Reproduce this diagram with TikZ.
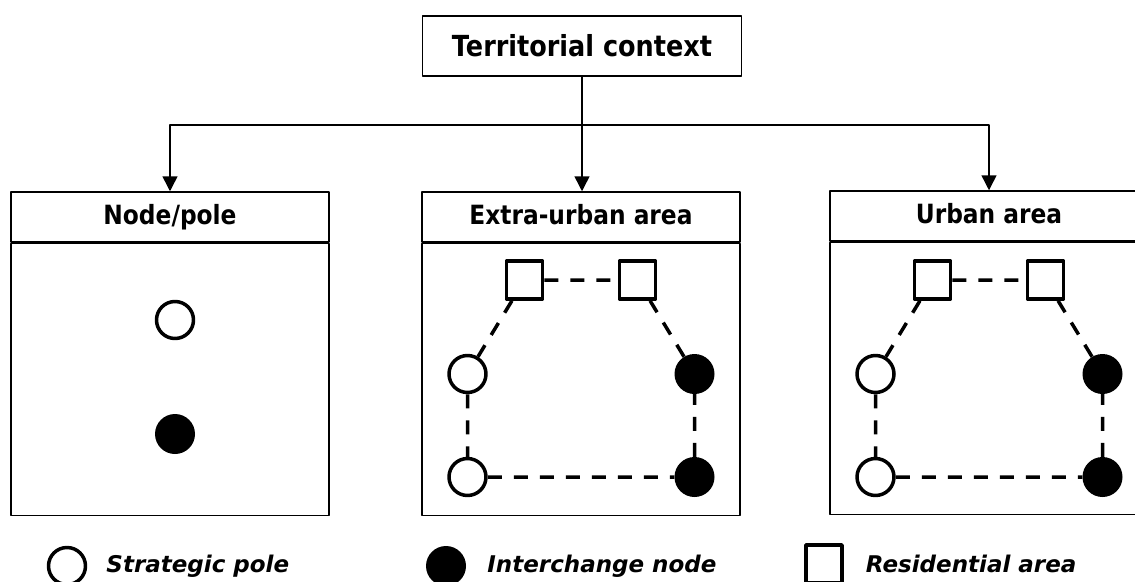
\documentclass[tikz,border=0pt]{standalone}
\usepackage{fontspec}
\setmainfont{DejaVu Sans}
\newfontfamily\headfont[FakeStretch=0.88]{DejaVu Sans}
\usetikzlibrary{arrows.meta,positioning}
\tikzset{
	panel/.style = {draw, line width=1.5pt, minimum width=318pt, inner sep=0pt},
	head/.style = {panel, minimum height=50pt, text height=20pt, text depth=5pt, font=\headfont\bfseries\fontsize{26.5}{30}\selectfont},
	pole/.style = {circle, draw, fill=white, line width=3.5pt, minimum size=37pt, inner sep=0pt},
	inter/.style = {circle, fill=black, minimum size=40pt, inner sep=0pt},
	resid/.style = {rectangle, draw, fill=white, line width=3.5pt, minimum width=36pt, minimum height=38pt, inner sep=0pt},
	link/.style = {line width=3.5pt, dash pattern=on 14pt off 12pt},
	feed/.style = {line width=1.5pt, -{Triangle[length=15pt,width=15pt]}},
	legend/.style = {inner sep=0pt, font=\bfseries\itshape\fontsize{23}{28}\selectfont}
}
\begin{document}
\begin{tikzpicture}[x=1pt, y=-1pt, line join = round]
	\useasboundingbox (0,0) rectangle (1135,581);
	% top box
	\node[panel, minimum width=319pt, minimum height=60pt, font=\headfont\bfseries\fontsize{29}{34}\selectfont] (context) at (582,46) {Territorial context};
	% three panels
	\node[head] (nphead) at (170,217) {Node/pole};
	\node[panel, minimum height=272pt, below=0pt of nphead] (npbody) {};
	\node[head] (xhead) at (581,217) {Extra-urban area};
	\node[panel, minimum height=272pt, below=0pt of xhead] (xbody) {};
	\node[head] (uhead) at (989,216) {Urban area};
	\node[panel, minimum height=272pt, below=0pt of uhead] (ubody) {};
	% arrows
	\coordinate (split) at (context.south |- 0,125);
	\draw[line width=1.5pt] (context.south) -- (split);
	\draw[feed] (split) -- (split |- xhead.north);
	\draw[feed] (split) -| (nphead.north);
	\draw[feed] (split) -| (uhead.north);
	% node/pole panel
	\node[pole] (np1) at (175,320) {};
	\node[inter] (np2) at (175,434) {};
	% networks
	\foreach \p/\c in {x/581, u/989} {
		\node[resid] (\p r1) at (\c-56.5,280) {};
		\node[resid] (\p r2) at (\c+56.5,280) {};
		\node[pole] (\p p1) at (\c-113.5,374) {};
		\node[pole] (\p p2) at (\c-113.5,477) {};
		\node[inter] (\p i1) at (\c+113.5,374) {};
		\node[inter] (\p i2) at (\c+113.5,477) {};
		\draw[link] (\p r1) -- (\p r2) (\p r1) -- (\p p1) -- (\p p2) -- (\p i2) -- (\p i1) -- (\p r2);
	}
	% legend
	\node[pole] (lgpole) at (67,566) {};
	\node[legend, right=19pt of lgpole] (lgpoletxt) {Strategic pole};
	\node[inter] (lginter) at (446,566) {};
	\node[legend, right=21pt of lginter] (lgintertxt) {Interchange node};
	\node[resid] (lgresid) at (824,564) {};
	\node[legend, right=22pt of lgresid] (lgresidtxt) {Residential area};
\end{tikzpicture}
\end{document}
